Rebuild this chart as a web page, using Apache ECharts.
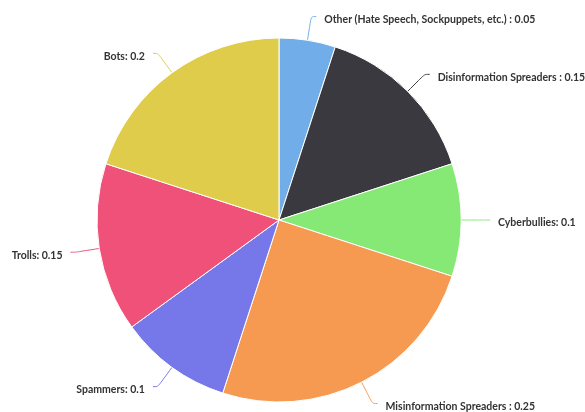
<!DOCTYPE html>
<html><head><meta charset="utf-8">
<script src="https://cdn.jsdelivr.net/npm/echarts@6/dist/echarts.min.js"></script>
<style>html,body{margin:0;padding:0;background:#fff}#c{width:585px;height:412px}</style>
</head><body><div id="c"></div>
<script>
const categories = ["Other (Hate Speech, Sockpuppets, etc.) ", "Disinformation Spreaders ", "Cyberbullies", "Misinformation Spreaders ", "Spammers", "Trolls", "Bots"];
const values = [0.05, 0.15, 0.1, 0.25, 0.1, 0.15, 0.2];
const colors = ["#71aee9", "#3a393f", "#86e975", "#f69a52", "#7677e8", "#ef5179", "#e0cc4b"];
const chart = echarts.init(document.getElementById('c'));
chart.setOption({
  animation: false,
  color: colors,
  series: [{
    type: 'pie',
    center: [279, 220],
    radius: 182,
    startAngle: 90,
    data: categories.map((n, i) => ({name: n, value: values[i]})),
    itemStyle: {borderColor: '#fff', borderWidth: 1},
    label: {formatter: '{b}: {c}', fontFamily: 'Lato', fontWeight: 'bold', fontSize: 10.5, color: '#333', overflow: 'none', distanceToLabelLine: 8},
    labelLine: {length: 24, length2: 5, smooth: true},
    labelLayout: {dy: 3}
  }]
});
</script></body></html>
